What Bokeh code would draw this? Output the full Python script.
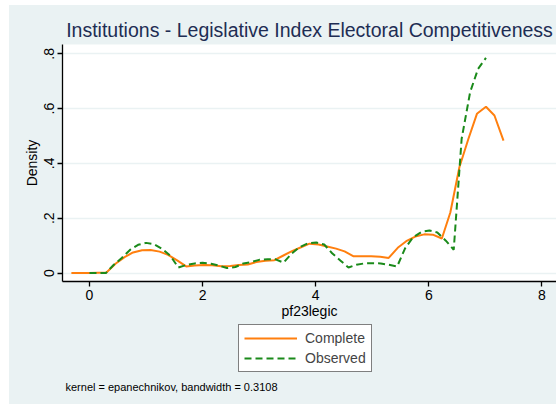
from bokeh.plotting import figure
from bokeh.models import (FixedTicker, Range1d, Legend, LegendItem, Label, Spacer)
from bokeh.layouts import column, row
from bokeh.embed import file_html
from bokeh.resources import INLINE

# Complete (orange) kernel density estimate
complete_x = [-0.32, -0.16, -0.01, 0.15, 0.30, 0.46, 0.62, 0.77, 0.93, 1.08,
              1.24, 1.39, 1.55, 1.71, 1.86, 2.02, 2.17, 2.33, 2.49, 2.64,
              2.80, 2.95, 3.11, 3.27, 3.42, 3.58, 3.73, 3.89, 4.05, 4.20,
              4.36, 4.51, 4.67, 4.82, 4.98, 5.14, 5.29, 5.45, 5.60, 5.76,
              5.92, 6.07, 6.23, 6.38, 6.54, 6.70, 6.85, 7.01, 7.16, 7.32]
complete_y = [0.0, 0.0, 0.0, 0.001, 0.002, 0.034, 0.058, 0.075, 0.083, 0.084,
              0.078, 0.066, 0.046, 0.024, 0.027, 0.029, 0.028, 0.025, 0.026, 0.029,
              0.031, 0.040, 0.045, 0.047, 0.063, 0.080, 0.093, 0.107, 0.104, 0.097,
              0.089, 0.079, 0.061, 0.061, 0.061, 0.059, 0.055, 0.092, 0.116, 0.133,
              0.141, 0.140, 0.126, 0.221, 0.386, 0.490, 0.581, 0.607, 0.575, 0.483]

# Observed (green dashed) kernel density estimate
observed_x = [0.00, 0.14, 0.29, 0.43, 0.57, 0.72, 0.86, 1.00, 1.14, 1.29,
              1.43, 1.57, 1.72, 1.86, 2.00, 2.15, 2.29, 2.43, 2.58, 2.72,
              2.86, 3.00, 3.15, 3.29, 3.43, 3.58, 3.72, 3.86, 4.01, 4.15,
              4.29, 4.44, 4.58, 4.72, 4.86, 5.01, 5.15, 5.29, 5.44, 5.58,
              5.72, 5.87, 6.01, 6.15, 6.30, 6.44, 6.58, 6.73, 6.87, 7.01]
observed_y = [0.0, 0.0, 0.0, 0.030, 0.055, 0.085, 0.103, 0.110, 0.105, 0.087,
              0.063, 0.020, 0.030, 0.035, 0.037, 0.034, 0.027, 0.018, 0.022, 0.035,
              0.040, 0.048, 0.050, 0.050, 0.038, 0.072, 0.095, 0.108, 0.111, 0.104,
              0.072, 0.045, 0.020, 0.030, 0.035, 0.036, 0.035, 0.030, 0.024, 0.090,
              0.130, 0.150, 0.155, 0.148, 0.118, 0.085, 0.490, 0.660, 0.745, 0.785]

x_ticks = [0, 2, 4, 6, 8]
y_ticks = [0, 0.2, 0.4, 0.6, 0.8]
y_tick_labels = {0: "0", 0.2: ".2", 0.4: ".4", 0.6: ".6", 0.8: ".8"}

title_text = "Institutions - Legislative Index Electoral Competitiveness"
x_label = "pf23legic"
y_label = "Density"
series_names = ["Complete", "Observed"]
note_text = "kernel = epanechnikov, bandwidth = 0.3108"

FONT = "Liberation Sans"
BG = "#eaf2f3"
ORANGE = "#ff7f0e"
GREEN = "#1a8a1a"
DASH = "7 4"

# ---- main plot -------------------------------------------------------------
p = figure(width=547, height=317, output_backend="svg", toolbar_location=None,
           x_range=Range1d(-0.477, 8.257), y_range=Range1d(-0.031, 0.834),
           min_border_left=53, min_border_top=39, min_border_bottom=41,
           min_border_right=0)
p.background_fill_color = "white"
p.border_fill_color = BG
p.outline_line_color = None

p.title.text = title_text
p.title.align = "center"
p.title.text_font = FONT
p.title.text_font_size = "19.5px"
p.title.text_font_style = "normal"
p.title.text_color = "#1e2d53"
p.title.standoff = 7

p.line(complete_x, complete_y, line_color=ORANGE, line_width=2)
p.line(observed_x, observed_y, line_color=GREEN, line_width=2, line_dash=DASH)

p.xgrid.visible = False
p.ygrid.ticker = FixedTicker(ticks=y_ticks)
p.ygrid.grid_line_color = BG
p.ygrid.grid_line_width = 1.5

p.xaxis.ticker = FixedTicker(ticks=x_ticks)
p.yaxis.ticker = FixedTicker(ticks=y_ticks)
p.yaxis.major_label_overrides = y_tick_labels
p.yaxis.major_label_orientation = "vertical"
for ax in (p.xaxis, p.yaxis):
    ax.axis_line_color = "black"
    ax.axis_line_width = 1.3
    ax.major_tick_line_color = "black"
    ax.major_tick_line_width = 1.3
    ax.major_tick_out = 5
    ax.major_tick_in = 0
    ax.minor_tick_line_color = None
    ax.major_label_text_font = FONT
    ax.major_label_text_font_size = "14px"
    ax.major_label_text_color = "black"
    ax.axis_label_text_font = FONT
    ax.axis_label_text_font_size = "14px"
    ax.axis_label_text_font_style = "normal"
    ax.axis_label_text_color = "black"
p.xaxis.axis_label = x_label
p.yaxis.axis_label = y_label
p.xaxis.major_label_standoff = 3
p.xaxis.axis_label_standoff = 0
p.yaxis.major_label_standoff = 3
p.yaxis.axis_label_standoff = 2

# ---- legend and note strip (frame aligned with the main plot's frame) ---------
q = figure(width=547, height=82, output_backend="svg", toolbar_location=None,
           x_range=Range1d(62, 556), y_range=Range1d(0, 82),
           x_axis_type=None, y_axis_type=None, min_border=0)
q.background_fill_color = BG
q.border_fill_color = BG
q.outline_line_color = None
q.grid.visible = False

k1 = q.line(x=[100, 101], y=[-50, -50], line_color=ORANGE, line_width=2)
k2 = q.line(x=[100, 101], y=[-50, -50], line_color=GREEN, line_width=2,
            line_dash=DASH)

legend = Legend(items=[LegendItem(label=series_names[0], renderers=[k1]),
                       LegendItem(label=series_names[1], renderers=[k2])],
                location=(176, 32), orientation="vertical")
legend.border_line_color = "black"
legend.border_line_width = 1
legend.background_fill_color = "white"
legend.background_fill_alpha = 1
legend.label_text_font = FONT
legend.label_text_font_size = "14px"
legend.glyph_width = 53
legend.glyph_height = 16
legend.label_height = 16
legend.spacing = 4
legend.padding = 5
legend.margin = 0
legend.label_standoff = 8
q.add_layout(legend, "center")

note = Label(x=65, y=18, text=note_text, text_font=FONT,
             text_font_size="11px", text_color="black", text_baseline="middle")
q.add_layout(note)

chart = column(p, q, spacing=0, styles={"background-color": BG})
layout = column(Spacer(width=556, height=5),
                row(Spacer(width=9, height=399), chart, spacing=0),
                spacing=0)
open("out.html", "w").write(file_html(layout, INLINE))
